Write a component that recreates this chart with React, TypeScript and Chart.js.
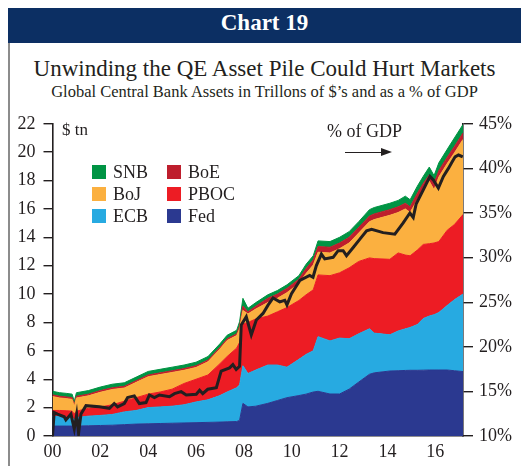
import React, { useEffect, useRef } from "react";
import { Chart, registerables } from "chart.js";
Chart.register(...registerables);

const years = [2000.0, 2000.3, 2000.6, 2000.82, 2000.91, 2001.0, 2001.5, 2002.0, 2002.5, 2003.0, 2003.5, 2004.0, 2004.5, 2005.0, 2005.5, 2006.0, 2006.5, 2007.0, 2007.3, 2007.7, 2007.82, 2007.96, 2008.17, 2008.5, 2009.0, 2009.4, 2009.8, 2010.3, 2010.6, 2010.9, 2011.1, 2011.6, 2012.0, 2012.4, 2012.8, 2013.25, 2013.45, 2014.1, 2014.45, 2014.75, 2014.95, 2015.25, 2015.5, 2015.75, 2015.95, 2016.15, 2016.5, 2016.8, 2017.16];

const fed = [0.70, 0.70, 0.70, 0.70, 0.68, 0.70, 0.72, 0.74, 0.76, 0.80, 0.84, 0.86, 0.88, 0.90, 0.92, 0.94, 0.96, 0.98, 1.00, 1.02, 1.10, 2.30, 2.05, 2.10, 2.30, 2.50, 2.70, 2.85, 2.95, 3.10, 3.15, 2.96, 2.96, 3.30, 3.80, 4.35, 4.45, 4.58, 4.60, 4.62, 4.63, 4.63, 4.64, 4.65, 4.65, 4.65, 4.65, 4.60, 4.54];
const ecb = [0.70, 0.65, 0.60, 0.60, 0.47, 0.60, 0.68, 0.71, 0.76, 0.90, 0.96, 1.14, 1.17, 1.20, 1.28, 1.46, 1.59, 1.87, 2.10, 2.38, 2.50, 2.65, 2.35, 2.55, 2.70, 2.50, 2.15, 2.55, 2.80, 2.90, 3.85, 3.74, 3.94, 3.55, 3.40, 3.20, 2.80, 2.55, 2.80, 2.93, 3.02, 3.22, 3.64, 3.80, 3.90, 4.05, 4.55, 5.00, 5.46];
const pboc = [0.40, 0.45, 0.48, 0.45, 0.40, 0.45, 0.55, 0.60, 0.68, 0.75, 0.90, 0.95, 1.05, 1.20, 1.50, 1.60, 1.75, 2.25, 2.50, 2.80, 3.00, 2.95, 3.60, 3.60, 3.45, 3.75, 4.20, 4.15, 4.20, 4.30, 4.35, 4.60, 4.60, 5.00, 5.10, 5.00, 5.25, 5.32, 5.50, 5.20, 5.05, 5.25, 5.22, 5.10, 5.05, 5.00, 5.30, 5.30, 5.60];
const boj = [0.98, 0.88, 0.85, 0.83, 0.53, 0.93, 0.88, 1.03, 1.08, 0.93, 1.08, 1.23, 1.23, 1.18, 0.93, 0.83, 0.93, 1.03, 1.13, 0.88, 0.95, 0.95, 0.60, 0.70, 0.95, 0.95, 1.05, 1.20, 1.50, 1.75, 1.60, 1.60, 1.70, 1.75, 2.00, 2.55, 2.75, 3.10, 2.85, 3.25, 3.05, 3.55, 3.85, 4.40, 3.75, 4.55, 4.70, 5.05, 5.30];
const boe = [0.12, 0.12, 0.12, 0.12, 0.12, 0.12, 0.12, 0.12, 0.12, 0.12, 0.12, 0.12, 0.12, 0.12, 0.12, 0.12, 0.12, 0.12, 0.12, 0.12, 0.20, 0.30, 0.15, 0.20, 0.30, 0.30, 0.30, 0.30, 0.35, 0.35, 0.40, 0.40, 0.40, 0.40, 0.40, 0.40, 0.40, 0.40, 0.40, 0.40, 0.40, 0.45, 0.45, 0.45, 0.45, 0.45, 0.45, 0.45, 0.45];
const snb = [0.25, 0.25, 0.25, 0.25, 0.25, 0.25, 0.25, 0.25, 0.25, 0.25, 0.25, 0.25, 0.25, 0.25, 0.25, 0.25, 0.25, 0.25, 0.25, 0.25, 0.30, 0.55, 0.25, 0.25, 0.25, 0.25, 0.25, 0.25, 0.30, 0.30, 0.40, 0.40, 0.40, 0.40, 0.40, 0.45, 0.45, 0.45, 0.45, 0.50, 0.50, 0.50, 0.50, 0.55, 0.55, 0.55, 0.55, 0.60, 0.60];

const gdpYears = [2000.0, 2000.07, 2000.21, 2000.49, 2000.56, 2000.77, 2000.91, 2001.01, 2001.09, 2001.19, 2001.4, 2001.96, 2002.38, 2002.58, 2002.72, 2003.0, 2003.14, 2003.42, 2003.63, 2003.91, 2004.05, 2004.26, 2004.47, 2004.89, 2005.1, 2005.38, 2005.59, 2006.01, 2006.15, 2006.28, 2006.49, 2006.85, 2007.05, 2007.4, 2007.54, 2007.68, 2007.82, 2007.89, 2008.1, 2008.31, 2008.52, 2008.8, 2009.01, 2009.22, 2009.5, 2009.71, 2009.8, 2009.99, 2010.34, 2010.75, 2010.89, 2011.03, 2011.24, 2011.38, 2011.73, 2011.94, 2012.15, 2012.29, 2012.57, 2012.85, 2013.13, 2013.34, 2013.82, 2014.31, 2014.66, 2014.94, 2015.08, 2015.2, 2015.5, 2015.78, 2015.92, 2016.13, 2016.34, 2016.55, 2016.69, 2016.83, 2016.97, 2017.15];
const gdpPct = [10.0, 12.64, 12.46, 12.16, 11.8, 12.46, 10.8, 12.4, 10.3, 12.46, 13.4, 13.27, 13.1, 13.64, 13.27, 13.64, 14.3, 14.5, 13.64, 13.75, 14.6, 14.3, 14.6, 14.4, 14.75, 14.97, 14.6, 14.68, 15.13, 14.75, 15.24, 15.42, 17.27, 17.64, 18.0, 17.46, 17.8, 22.45, 23.37, 21.34, 23.0, 23.74, 24.67, 25.48, 25.04, 25.22, 24.7, 25.96, 27.45, 28.0, 27.8, 29.1, 30.4, 29.85, 30.03, 30.78, 30.78, 30.22, 31.14, 32.07, 33.0, 33.17, 32.8, 32.62, 33.9, 35.0, 34.5, 36.0, 37.6, 39.1, 38.7, 37.8, 39.1, 40.0, 40.65, 41.3, 41.5, 41.3];

const leftTicks = [0, 2, 4, 6, 8, 10, 12, 14, 16, 18, 20, 22];
const rightTicks = [10, 15, 20, 25, 30, 35, 40, 45];
const xTickYears = [2000, 2002, 2004, 2006, 2008, 2010, 2012, 2014, 2016];

const SERIES = [
  { label: "Fed", data: fed, color: "#2B3990" },
  { label: "ECB", data: ecb, color: "#27AAE1" },
  { label: "PBOC", data: pboc, color: "#ED1C24" },
  { label: "BoJ", data: boj, color: "#FBB040" },
  { label: "BoE", data: boe, color: "#BE1E2D" },
  { label: "SNB", data: snb, color: "#009444" },
];

const FONT = "'Liberation Serif', 'Times New Roman', serif";
const INK = "#231F20";

export default function App() {
  const ref = useRef<HTMLCanvasElement | null>(null);

  useEffect(() => {
    if (!ref.current) return;
    const areaSets = SERIES.map((s, k) => ({
      type: "line" as const,
      label: s.label,
      data: years.map((x, i) => ({ x, y: s.data[i] })),
      yAxisID: "y",
      backgroundColor: s.color,
      borderColor: s.color,
      borderWidth: 1,
      pointRadius: 0,
      tension: 0,
      fill: k === 0 ? "origin" : "-1",
      order: 1,
    }));
    const gdpSet = {
      type: "line" as const,
      label: "% of GDP",
      data: gdpYears.map((x, i) => ({ x, y: gdpPct[i] })),
      yAxisID: "y2",
      borderColor: INK,
      backgroundColor: INK,
      borderWidth: 3,
      pointRadius: 0,
      tension: 0,
      fill: false,
      order: 0,
      borderJoinStyle: "miter" as const,
    };
    const tickFont = { family: FONT, size: 18 };
    const chart = new Chart(ref.current, {
      type: "line",
      data: { datasets: [...areaSets, gdpSet] as any },
      options: {
        animation: false,
        responsive: false,
        maintainAspectRatio: false,
        layout: { padding: { top: 14, left: 0, right: 0, bottom: 0 } },
        plugins: { legend: { display: false }, tooltip: { enabled: false } },
        scales: {
          x: {
            type: "linear",
            min: 2000,
            max: 2017.16,
            afterBuildTicks: (s: any) => {
              s.ticks = xTickYears.map((v) => ({ value: v }));
            },
            ticks: {
              font: tickFont,
              color: INK,
              padding: 5,
              maxRotation: 0,
              autoSkip: false,
              callback: (v: any) => String(Math.round(v) % 100).padStart(2, "0"),
            },
            grid: { display: true, drawOnChartArea: false, drawTicks: false, color: INK },
            border: { display: true, color: INK, width: 1.6 },
            afterFit: (s: any) => {
              s.height = 30;
            },
          },
          y: {
            type: "linear",
            position: "left",
            stacked: true,
            min: 0,
            max: 22,
            afterBuildTicks: (s: any) => {
              s.ticks = leftTicks.map((v) => ({ value: v }));
            },
            ticks: { font: tickFont, color: INK, padding: 8, autoSkip: false },
            grid: { display: true, drawOnChartArea: false, drawTicks: true, tickLength: 9, color: INK, lineWidth: 1.4 },
            border: { display: true, color: INK, width: 1.6 },
            afterFit: (s: any) => {
              s.width = 42.5;
            },
          },
          y2: {
            type: "linear",
            position: "right",
            min: 10,
            max: 45,
            afterBuildTicks: (s: any) => {
              s.ticks = rightTicks.map((v) => ({ value: v }));
            },
            ticks: {
              font: tickFont,
              color: INK,
              padding: 6,
              autoSkip: false,
              callback: (v: any) => v + "%",
            },
            grid: { display: true, drawOnChartArea: false, drawTicks: true, tickLength: 10, color: INK, lineWidth: 1.4 },
            border: { display: true, color: INK, width: 1.6 },
            afterFit: (s: any) => {
              s.width = 58;
            },
          },
        },
      } as any,
    });
    return () => chart.destroy();
  }, []);

  const legendRows = [
    [SERIES[5], SERIES[4]],
    [SERIES[3], SERIES[2]],
    [SERIES[1], SERIES[0]],
  ];

  return (
    <>
      <style>{`html,body{margin:0;overflow:hidden;background:#fff}`}</style>
      <div style={{ position: "absolute", left: 8, top: 8, width: 513, height: 458, fontFamily: FONT, color: INK }}>
        <div
          style={{
            position: "absolute",
            left: 0,
            top: 0,
            width: 513,
            height: 35,
            background: "#0C2F63",
            color: "#fff",
            fontWeight: "bold",
            fontSize: 23,
            lineHeight: "30px",
            textAlign: "center",
          }}
        >
          Chart 19
        </div>
        <div style={{ position: "absolute", left: 0, top: 35, width: 2, height: 423, background: "#8C8C8C" }} />
        <div style={{ position: "absolute", left: 0, top: 47, width: 513, textAlign: "center", fontSize: 23, lineHeight: "27px", whiteSpace: "nowrap" }}>
          Unwinding the QE Asset Pile Could Hurt Markets
        </div>
        <div style={{ position: "absolute", left: 0, top: 74, width: 513, textAlign: "center", fontSize: 16.5, lineHeight: "19px", whiteSpace: "nowrap" }}>
          Global Central Bank Assets in Trillons of $’s and as a % of GDP
        </div>
        <canvas ref={ref} width={511} height={361} style={{ position: "absolute", left: 2, top: 97, width: 511, height: 361 }} />
        <div style={{ position: "absolute", left: 54, top: 112, fontSize: 17, lineHeight: "20px" }}>$ tn</div>
        <div style={{ position: "absolute", left: 319, top: 113, fontSize: 18, lineHeight: "21px" }}>% of GDP</div>
        <div style={{ position: "absolute", left: 337, top: 143.5, width: 38, height: 1.6, background: INK }} />
        <div
          style={{
            position: "absolute",
            left: 373,
            top: 140,
            width: 0,
            height: 0,
            borderTop: "4.5px solid transparent",
            borderBottom: "4.5px solid transparent",
            borderLeft: "11px solid " + INK,
          }}
        />
        {legendRows.map((row, r) =>
          row.map((s, c) => (
            <div
              key={s.label}
              style={{
                position: "absolute",
                left: c === 0 ? 84 : 159,
                top: 157 + r * 22,
                height: 14,
                display: "flex",
                alignItems: "center",
                whiteSpace: "nowrap",
              }}
            >
              <div style={{ width: 14, height: 14, background: s.color, marginRight: 7 }} />
              <span style={{ fontSize: 18, lineHeight: "14px" }}>{s.label}</span>
            </div>
          ))
        )}
      </div>
    </>
  );
}
